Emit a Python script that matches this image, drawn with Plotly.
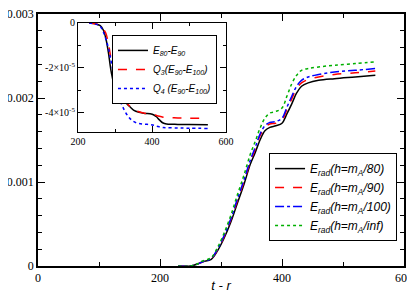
import plotly.graph_objects as go

# ---- main panel data ----
t_main = [230, 250, 260, 270, 284, 295, 305, 316, 327, 338, 348, 356, 364, 372,
          380, 390, 400, 408, 416, 424, 432, 443, 460, 486, 520, 553]
e80 = [0, 0, 0.00002, 0.00005, 0.00008, 0.00019, 0.00033, 0.00052, 0.00075, 0.00098,
       0.00121, 0.00135, 0.00150, 0.00161, 0.00165, 0.00167, 0.00170, 0.00181,
       0.00193, 0.00206, 0.00214, 0.00218, 0.00221, 0.00223, 0.00225, 0.00227]
e90 = [0, 0, 0.00002, 0.00005, 0.00009, 0.00020, 0.00035, 0.00055, 0.00078, 0.00101,
       0.00124, 0.00139, 0.00155, 0.00165, 0.00169, 0.00170, 0.00174, 0.00186,
       0.00199, 0.00211, 0.00218, 0.00222, 0.00225, 0.00228, 0.00230, 0.00232]
e100 = [0, 0, 0.00002, 0.00005, 0.00009, 0.00021, 0.00036, 0.00056, 0.00080, 0.00103,
        0.00126, 0.00141, 0.00157, 0.00167, 0.00171, 0.00172, 0.00176, 0.00189,
        0.00202, 0.00214, 0.00221, 0.00225, 0.00228, 0.00231, 0.00233, 0.00235]
einf = [0, 0, 0.00002, 0.00006, 0.00010, 0.00023, 0.00039, 0.00060, 0.00085, 0.00109,
        0.00133, 0.00148, 0.00164, 0.00176, 0.00182, 0.00184, 0.00188, 0.00202,
        0.00217, 0.00227, 0.00233, 0.00235, 0.00237, 0.00239, 0.00241, 0.00243]

main_names = ["<i>E<sub>rad</sub>(h=m<sub>A</sub>/80)</i>",
              "<i>E<sub>rad</sub>(h=m<sub>A</sub>/90)</i>",
              "<i>E<sub>rad</sub>(h=m<sub>A</sub>/100)</i>",
              "<i>E<sub>rad</sub>(h=m<sub>A</sub>/inf)</i>"]

# ---- inset data (units of 1e-5) ----
t_ins = [230, 250, 260, 268, 275, 282, 290, 300, 310, 320, 335, 350, 365, 380,
         395, 405, 412, 420, 430, 440, 470, 500, 551]
d_80_90 = [0, -0.05, -0.12, -0.30, -0.67, -1.30, -2.20, -2.90, -3.20, -3.38, -3.65,
           -3.88, -3.98, -4.03, -4.05, -4.10, -4.18, -4.32, -4.46, -4.50, -4.52, -4.53, -4.54]
q3 = [0, -0.05, -0.10, -0.25, -0.45, -0.90, -1.65, -2.35, -2.85, -3.25, -3.62,
      -3.85, -3.96, -4.02, -4.05, -4.08, -4.12, -4.16, -4.20, -4.22, -4.23, -4.24, -4.25]
q4 = [0, -0.06, -0.15, -0.38, -0.70, -1.10, -1.75, -2.55, -3.25, -3.70, -4.15,
      -4.39, -4.48, -4.51, -4.53, -4.56, -4.60, -4.63, -4.66, -4.67, -4.68, -4.69, -4.70]
ins_names = ["<i>E<sub>80</sub>-E<sub>90</sub></i>",
             "<i>Q<sub>3</sub>(E<sub>90</sub>-E<sub>100</sub>)</i>",
             "<i>Q<sub>4</sub> (E<sub>90</sub>-E<sub>100</sub>)</i>"]

main_y_ticks = [0, 0.001, 0.002, 0.003]
main_y_text = ["0", "0.001", "0.002", "0.003"]
ins_y_ticks = [0, -2e-5, -4e-5]
ins_y_text = ["0", "-2×10<sup>-5</sup>", "-4×10<sup>-5</sup>"]

colors = ["black", "#ff0000", "#0000ff", "#00b000"]
dashes = ["solid", "dash", "dashdot", "dot"]

fig = go.Figure()
for ys, nm, c, d in zip([e80, e90, e100, einf], main_names, colors, dashes):
    fig.add_trace(go.Scatter(x=t_main, y=ys, name=nm, mode="lines",
                             line=dict(color=c, dash=d, width=1.5, shape="spline"),
                             xaxis="x", yaxis="y", legend="legend"))
for ys, nm, c, d in zip([d_80_90, q3, q4], ins_names, colors[:3], ["solid", "dash", "dot"]):
    fig.add_trace(go.Scatter(x=t_ins, y=[v * 1e-5 for v in ys], name=nm, mode="lines",
                             line=dict(color=c, dash=d, width=1.5, shape="spline"),
                             xaxis="x2", yaxis="y2", legend="legend2"))

serif = "Liberation Serif"
sans = "Liberation Sans"
axcommon = dict(showline=True, linecolor="black", mirror="ticks", ticks="inside",
                tickcolor="black", showgrid=False, zeroline=False, automargin=False,
                ticklabeloverflow="allow")

fig.update_layout(
    width=407, height=285,
    margin=dict(l=30, r=11, t=6, b=27),
    paper_bgcolor="white", plot_bgcolor="white",
    xaxis=dict(range=[0, 600], domain=[0, 1], dtick=200, tick0=0, ticklen=7, linewidth=1.5,
               tickwidth=1.2, tickfont=dict(family=serif, size=12, color="black"),
               minor=dict(dtick=100, ticks="inside", ticklen=4, tickcolor="black"),
               title=dict(text="<i>t - r</i>", font=dict(family=sans, size=13, color="black"),
                          standoff=0),
               **axcommon),
    yaxis=dict(range=[0, 0.003], domain=[0, 1], tickvals=main_y_ticks, ticktext=main_y_text,
               ticklen=7, linewidth=1.5, tickwidth=1.2,
               tickfont=dict(family=serif, size=12, color="black"),
               minor=dict(dtick=0.0002, ticks="inside", ticklen=4, tickcolor="black"),
               **axcommon),
    xaxis2=dict(range=[200, 600], domain=[0.1093, 0.5137], anchor="y2", dtick=200, tick0=0,
                ticklen=6, linewidth=1.2, tickfont=dict(family=serif, size=10, color="black"),
                minor=dict(dtick=100, ticks="inside", ticklen=3, tickcolor="black"),
                **axcommon),
    yaxis2=dict(range=[-4.86e-5, 0], domain=[0.5317, 0.9643], anchor="x2",
                tickvals=ins_y_ticks, ticktext=ins_y_text, ticklen=6, linewidth=1.2,
                tickfont=dict(family=serif, size=10, color="black"),
                minor=dict(dtick=1e-5, ticks="inside", ticklen=3, tickcolor="black"),
                **axcommon),
    legend=dict(x=0.981, y=0.448, xanchor="right", yanchor="top",
                bordercolor="black", borderwidth=1, bgcolor="white",
                font=dict(family=sans, size=12, color="black"),
                itemwidth=30, tracegroupgap=0),
    legend2=dict(x=0.489, y=0.917, xanchor="right", yanchor="top",
                 bordercolor="black", borderwidth=1, bgcolor="white",
                 font=dict(family=sans, size=10, color="black"),
                 itemwidth=30, tracegroupgap=0),
)

fig.write_html("out.html")
